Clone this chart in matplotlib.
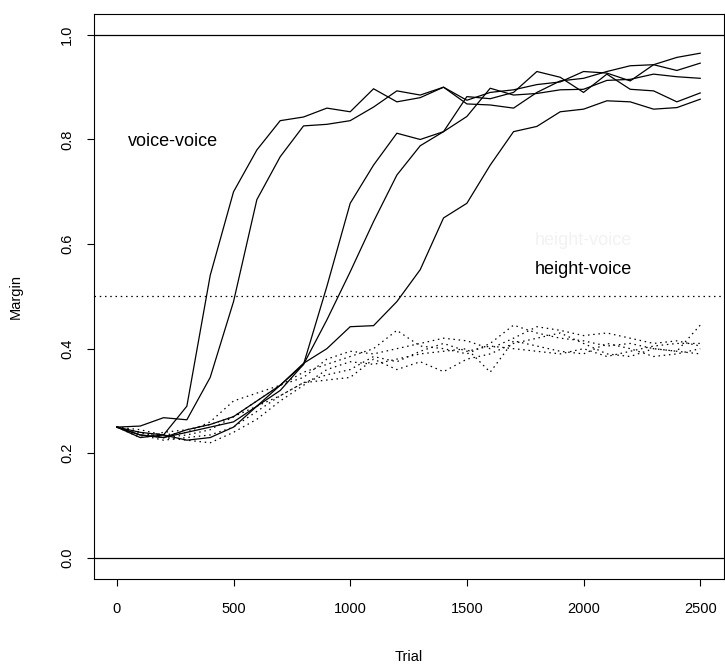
import matplotlib
matplotlib.use("Agg")
import matplotlib.pyplot as plt

plt.rcParams['font.family'] = ['Liberation Sans', 'DejaVu Sans']

trial = list(range(0, 2600, 100))

# solid curves: voice-voice
vv_a = [0.25, 0.24, 0.235, 0.29, 0.54, 0.70, 0.78, 0.836, 0.843, 0.86, 0.853, 0.897, 0.872,
        0.88, 0.90, 0.868, 0.866, 0.86, 0.89, 0.912, 0.917, 0.930, 0.941, 0.943, 0.957, 0.965]
vv_b = [0.25, 0.252, 0.268, 0.264, 0.345, 0.49, 0.685, 0.767, 0.826, 0.829, 0.836, 0.862, 0.893,
        0.885, 0.90, 0.875, 0.89, 0.895, 0.905, 0.91, 0.930, 0.927, 0.912, 0.943, 0.932, 0.946]
vv_c = [0.25, 0.235, 0.23, 0.245, 0.255, 0.27, 0.30, 0.33, 0.37, 0.519, 0.678, 0.751, 0.812,
        0.80, 0.815, 0.882, 0.878, 0.89, 0.93, 0.919, 0.890, 0.925, 0.896, 0.893, 0.872, 0.889]
vv_d = [0.25, 0.235, 0.23, 0.24, 0.25, 0.26, 0.29, 0.32, 0.37, 0.455, 0.547, 0.643, 0.732,
        0.788, 0.815, 0.844, 0.898, 0.885, 0.888, 0.895, 0.896, 0.913, 0.915, 0.925, 0.920, 0.917]
vv_e = [0.25, 0.23, 0.235, 0.225, 0.23, 0.25, 0.29, 0.33, 0.372, 0.40, 0.442, 0.444, 0.49,
        0.551, 0.650, 0.678, 0.751, 0.815, 0.825, 0.853, 0.858, 0.874, 0.872, 0.858, 0.861, 0.877]

# dotted curves: height-voice
hv_a = [0.25, 0.245, 0.235, 0.24, 0.26, 0.30, 0.315, 0.33, 0.355, 0.37, 0.385, 0.40, 0.435,
        0.405, 0.40, 0.39, 0.41, 0.445, 0.43, 0.42, 0.415, 0.405, 0.41, 0.40, 0.395, 0.39]
hv_b = [0.25, 0.24, 0.23, 0.235, 0.245, 0.27, 0.30, 0.33, 0.345, 0.38, 0.395, 0.39, 0.40,
        0.41, 0.42, 0.415, 0.40, 0.42, 0.442, 0.435, 0.425, 0.43, 0.42, 0.41, 0.415, 0.405]
hv_c = [0.25, 0.235, 0.225, 0.23, 0.235, 0.25, 0.28, 0.31, 0.335, 0.34, 0.345, 0.38, 0.36,
        0.375, 0.356, 0.38, 0.39, 0.41, 0.42, 0.43, 0.41, 0.39, 0.385, 0.40, 0.395, 0.445]
hv_d = [0.25, 0.24, 0.23, 0.225, 0.22, 0.24, 0.265, 0.30, 0.33, 0.36, 0.375, 0.37, 0.38,
        0.39, 0.395, 0.40, 0.355, 0.415, 0.405, 0.395, 0.39, 0.41, 0.40, 0.385, 0.39, 0.40]
hv_e = [0.25, 0.23, 0.24, 0.245, 0.255, 0.27, 0.29, 0.31, 0.335, 0.35, 0.36, 0.385, 0.375,
        0.395, 0.41, 0.395, 0.405, 0.40, 0.395, 0.39, 0.40, 0.385, 0.395, 0.405, 0.41, 0.41]

fig = plt.figure(figsize=(7.25, 6.66), dpi=100)
ax = fig.add_axes([0.129, 0.131, 0.869, 0.848])

for ys in [vv_a, vv_b, vv_c, vv_d, vv_e]:
    ax.plot(trial, ys, color='black', lw=0.9)
for ys in [hv_a, hv_b, hv_c, hv_d, hv_e]:
    ax.plot(trial, ys, color='black', lw=0.9, linestyle=(0, (1.2, 3)))

ax.axhline(0, color='black', lw=0.9)
ax.axhline(1, color='black', lw=0.9)
ax.axhline(0.5, color='black', lw=0.9, linestyle=(0, (1.2, 3)))

ax.text(240, 0.797, 'voice-voice', ha='center', va='center', fontsize=13)
ax.text(2000, 0.606, 'height-voice', ha='center', va='center', fontsize=13, color='#f2f2f2')
ax.text(2000, 0.551, 'height-voice', ha='center', va='center', fontsize=13)

ax.set_xlim(-100, 2600)
ax.set_ylim(-0.04, 1.04)
ax.set_xticks([0, 500, 1000, 1500, 2000, 2500])
ax.set_yticks([0.0, 0.2, 0.4, 0.6, 0.8, 1.0])
ax.set_yticklabels(['0.0', '0.2', '0.4', '0.6', '0.8', '1.0'], rotation=90, va='center')
ax.tick_params(axis='x', direction='out', length=5, width=0.8, labelsize=10.5, pad=12)
ax.tick_params(axis='y', direction='out', length=5, width=0.8, labelsize=10.5, pad=9)
for s in ax.spines.values():
    s.set_linewidth(0.8)

ax.set_xlabel('Trial', fontsize=10.5, labelpad=24)
ax.set_ylabel('Margin', fontsize=10.5, labelpad=27)

fig.savefig('out.png', dpi=100)
